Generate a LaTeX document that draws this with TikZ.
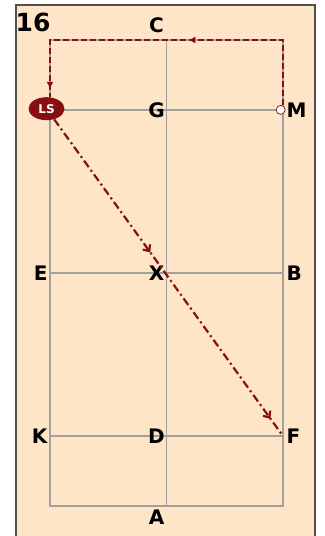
\documentclass[tikz,border=0pt]{standalone}
\usepackage{fontspec}
\setmainfont{DejaVu Sans}
\usetikzlibrary{arrows.meta, shapes.geometric, decorations.markings}

\definecolor{sand}{RGB}{255,229,200}
\definecolor{wine}{RGB}{135,15,15}
\definecolor{rail}{RGB}{160,160,160}
\definecolor{edge}{RGB}{80,80,80}

\tikzset{
  letter/.style={font=\bfseries\fontsize{20}{20}\selectfont, inner sep=0pt},
  track/.style={rail, line width=1.8pt},
  route/.style={wine, line width=2.2pt, dash pattern=on 6pt off 3pt,
    decoration={markings,
      mark=at position 0.45 with {\arrow{Latex[length=7pt,width=7pt]}},
      mark=at position -8pt with {\arrow{Latex[length=7pt,width=7pt]}}},
    postaction={decorate}},
  drill/.style={wine, line width=2.2pt, dash pattern=on 8pt off 3.5pt on 2pt off 3.5pt,
    decoration={markings,
      mark=at position 0.42 with {\arrow{Straight Barb[length=5pt,width=9pt]}},
      mark=at position 0.945 with {\arrow{Straight Barb[length=5pt,width=9pt]}}},
    postaction={decorate}}
}

\begin{document}
\begin{tikzpicture}[x=11.65pt, y=11.65pt]
  \useasboundingbox (-4.292,-2.575) rectangle (23.519,43.43);
  \fill[sand] (-2.918,-3) rectangle (22.747,43.0);
  \draw[edge, line width=1.6pt] (-2.918,-3) -- (-2.918,43.0) -- (22.747,43.0) -- (22.747,-3);

  % arena
  \draw[track] (0,0) rectangle (20,40);
  \draw[track] (10,0) -- (10,40);
  \foreach \y in {6,20,34}
    \draw[track] (0,\y) -- (20,\y);

  \node[font=\bfseries\fontsize{25}{25}\selectfont, inner sep=0pt] (num) at (-1.45,41.5) {16};

  \node[letter] (C) at (9.14,41.3) {C};
  \node[letter] (G) at (9.14,34) {G};
  \node[letter] (X) at (9.14,20) {X};
  \node[letter] (D) at (9.14,6) {D};
  \node[letter] (A) at (9.14,-1.0) {A};
  \node[letter, anchor=east] (E) at (-0.2,20) {E};
  \node[letter, anchor=east] (K) at (-0.2,6) {K};
  \node[letter, anchor=west] (B) at (20.3,20) {B};
  \node[letter, anchor=west] (F) at (20.3,6) {F};
  \node[letter, anchor=west] (M) at (20.3,34) {M};

  \node[ellipse, fill=wine, text=white, minimum width=36pt, minimum height=23pt, inner sep=0pt,
    font=\bfseries\fontsize{12}{12}\selectfont] (LS) at (-0.3,34.1) {LS};
  \node[circle, fill=white, draw=wine, line width=0.7pt, minimum size=9pt, inner sep=0pt] (Mdot) at (19.8,34) {};

  \coordinate (cm) at (20,40);
  \coordinate (ck) at (0,40);
  \coordinate (fpt) at (20,6);

  \draw[route] (cm |- Mdot.north) -- (cm) -- (ck) -- (ck |- LS.north);
  \draw[drill] (LS) -- (fpt);
\end{tikzpicture}
\end{document}
